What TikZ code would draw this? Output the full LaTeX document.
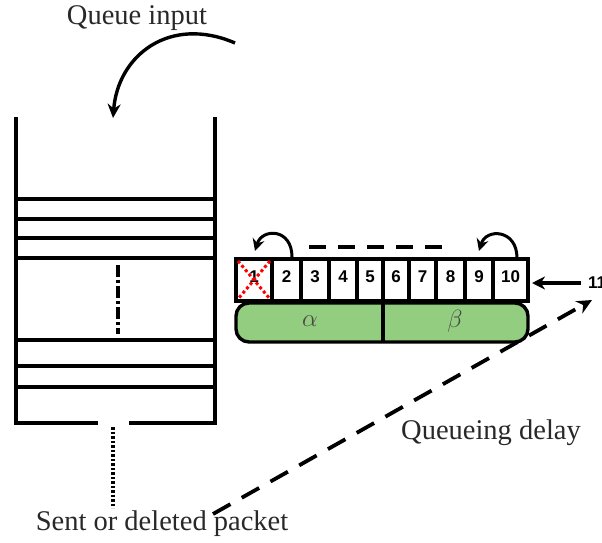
\documentclass[tikz,border=0pt]{standalone}
\usepackage{fontspec}
\setmainfont{Liberation Serif}
\newfontfamily\numfont{Liberation Sans}
\usetikzlibrary{arrows.meta}
\definecolor{slotgreen}{RGB}{146,205,128}
\definecolor{labelgray}{RGB}{40,40,40}
\tikzset{
  wall/.style={line width=4pt, line cap=butt, line join=miter},
  shelf/.style={line width=3.5pt},
  slotline/.style={line width=3.4pt, line join=miter},
  num/.style={font=\numfont\bfseries\fontsize{17}{17}\selectfont, inner sep=0pt},
  caption/.style={font=\fontsize{28.5}{28.5}\selectfont, text=labelgray, inner sep=0pt},
  greek/.style={font=\fontsize{28}{28}\selectfont, text=labelgray!85, inner sep=0pt},
  curvearrow/.style={line width=3.4pt, -{Stealth[length=14pt, width=13pt]}},
  loopback/.style={line width=3pt, -{Stealth[length=12pt, width=12pt]}},
  longdash/.style={line width=3.8pt, dash pattern=on 20pt off 13pt, -{Stealth[length=15pt, width=14pt]}},
  topdash/.style={line width=3.4pt, dash pattern=on 17pt off 12pt},
  feed/.style={line width=3.4pt, -{Stealth[length=13pt, width=13pt]}}
}
\begin{document}
\begin{tikzpicture}[x=1pt, y=-1pt]
\useasboundingbox (0,0) rectangle (602,543);

% captions
\node[caption] (qinput) at (137,18) {Queue input};
\node[caption] (sent) at (162,524) {Sent or deleted packet};
\node[caption] (delay) at (491,433) {Queueing delay};

% the queue buffer
\draw[wall] (16,117) -- (16,423) -- (98,423);
\draw[wall] (129,423) -- (215,423) -- (215,117);
\foreach \y in {199,219,238,258,340,366,387}
  \draw[shelf] (16,\y) -- (215,\y);
\draw[line width=3.4pt, dash pattern=on 12pt off 3pt on 3pt off 3pt] (118,265) -- (118,334);

% input arrow into the buffer
\coordinate (inStart) at (235,43);
\coordinate (inEnd) at (113,118);
\draw[curvearrow] (inStart) .. controls (170,15) and (118,55) .. (inEnd);

% output leaving the buffer
\coordinate (outTop) at (113,427);
\coordinate (outBottom) at (113,508);
\draw[line width=3.4pt, dash pattern=on 2.5pt off 2pt] (outTop) -- (outBottom);

% slots 1..10
\foreach \l/\r/\n in {236/272/1, 272/301/2, 301/329/3, 329/357/4, 357/383/5,
                       383/409/6, 409/436/7, 436/465/8, 465/493/9, 493/528/10} {
  \draw[slotline] (\l,259) rectangle (\r,301);
  \node[num] (s\n) at ({(\l+\r)/2},277) {\n};
}
% slot 1 is struck out
\draw[red, line width=3pt, dash pattern=on 3pt off 2.6pt] (238,261) -- (270,299);
\draw[red, line width=3pt, dash pattern=on 3pt off 2.6pt] (270,261) -- (238,299);

% the alpha / beta partition
\draw[slotline, fill=slotgreen, rounded corners=13pt] (236,303) rectangle (528,342);
\draw[slotline] (383,303) -- (383,342);
\node[greek] (alpha) at (310,321) {$\alpha$};
\node[greek] (beta) at (455,321) {$\beta$};

% shifting arrows above the slots
\coordinate (shiftAStart) at (292,257);
\coordinate (shiftAEnd) at (255,251);
\draw[loopback] (shiftAStart) .. controls (292,228) and (262,228) .. (shiftAEnd);
\coordinate (shiftBStart) at (517,258);
\coordinate (shiftBEnd) at (479,251);
\draw[loopback] (shiftBStart) .. controls (517,229) and (486,228) .. (shiftBEnd);
\coordinate (dashL) at (309,247);
\coordinate (dashR) at (442,247);
\draw[topdash] (dashL) -- (dashR);

% new packet entering
\node[num, anchor=west] (eleven) at (588,283) {11};
\coordinate (slotIn) at (532,283);
\draw[feed] (eleven.west) ++(-7,0) -- (slotIn);

% queueing delay span
\coordinate (delayStart) at (213,514);
\coordinate (delayEnd) at (592,300);
\draw[longdash] (delayStart) -- (delayEnd);
\end{tikzpicture}
\end{document}
